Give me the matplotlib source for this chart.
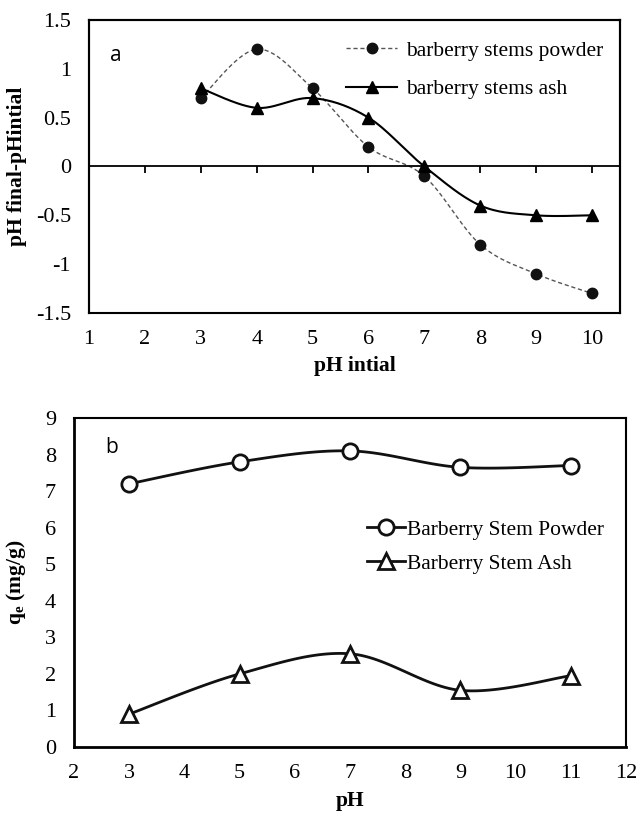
import numpy as np
import matplotlib
matplotlib.use("Agg")
import matplotlib.pyplot as plt
from matplotlib.lines import Line2D

plt.rcParams["font.family"] = ["Liberation Serif", "DejaVu Serif"]
plt.rcParams["mathtext.fontset"] = "custom"
plt.rcParams["mathtext.rm"] = "Liberation Serif"
plt.rcParams["mathtext.bf"] = "Liberation Serif:bold"

# panel a: change of pH vs initial pH
ph_init = [3, 4, 5, 6, 7, 8, 9, 10]
dph_powder = [0.7, 1.2, 0.8, 0.2, -0.1, -0.8, -1.1, -1.3]
dph_ash = [0.8, 0.6, 0.7, 0.5, 0.0, -0.4, -0.5, -0.5]

# panel b: uptake vs pH
ph_b = [3, 5, 7, 9, 11]
qe_powder = [7.2, 7.8, 8.1, 7.65, 7.7]
qe_ash = [0.9, 2.0, 2.55, 1.55, 1.95]


def smooth(x, y, n=30):
    # excel-like smoothed line: bezier through points, tangents from neighbours
    x = np.asarray(x, float)
    y = np.asarray(y, float)
    px = np.concatenate([[x[0]], x, [x[-1]]])
    py = np.concatenate([[y[0]], y, [y[-1]]])
    xs, ys = [], []
    t = np.linspace(0, 1, n)
    for i in range(1, len(px) - 2):
        p0 = np.array([px[i], py[i]])
        p3 = np.array([px[i + 1], py[i + 1]])
        p1 = p0 + (np.array([px[i + 1], py[i + 1]]) - np.array([px[i - 1], py[i - 1]])) / 6
        p2 = p3 - (np.array([px[i + 2], py[i + 2]]) - np.array([px[i], py[i]])) / 6
        b = ((1 - t) ** 3)[:, None] * p0 + (3 * (1 - t) ** 2 * t)[:, None] * p1 \
            + (3 * (1 - t) * t ** 2)[:, None] * p2 + (t ** 3)[:, None] * p3
        xs.extend(b[:, 0])
        ys.extend(b[:, 1])
    return np.array(xs), np.array(ys)


fig = plt.figure(figsize=(6.38, 8.18), dpi=100)
ax1 = fig.add_axes([0.1395, 0.6174, 0.8323, 0.3582])
ax2 = fig.add_axes([0.116, 0.0868, 0.8652, 0.4022])

# ---- panel a
sx, sy = smooth(ph_init, dph_powder)
ax1.plot(sx, sy, color="#555555", lw=1.0, ls=(0, (3, 2)))
ax1.plot(ph_init, dph_powder, ls="none", marker="o", ms=7.5, color="#111111")
sx, sy = smooth(ph_init, dph_ash)
ax1.plot(sx, sy, color="black", lw=1.5)
ax1.plot(ph_init, dph_ash, ls="none", marker="^", ms=8, color="black")

ax1.set_xlim(1, 10.5)
ax1.set_ylim(-1.5, 1.5)
ax1.set_xticks(range(2, 11))
ax1.set_yticks([-1.5, -1, -0.5, 0, 0.5, 1, 1.5])
ax1.set_yticklabels(["-1.5", "-1", "-0.5", "0", "0.5", "1", "1.5"])
ax1.tick_params(axis="y", length=0, labelsize=16, pad=13)
# x axis line sits on zero, ticks pointing down, no labels there
ax1.spines["bottom"].set_position(("data", 0))
ax1.tick_params(axis="x", direction="out", length=5, width=1.3, labelbottom=False)
for s in ax1.spines.values():
    s.set_linewidth(1.5)
ax1.spines["bottom"].set_linewidth(1.3)

# labels at the bottom of the frame
lab = ax1.twiny()
lab.set_xlim(ax1.get_xlim())
lab.set_xticks(range(1, 11))
lab.xaxis.set_ticks_position("bottom")
lab.xaxis.set_label_position("bottom")
lab.tick_params(axis="x", length=0, labelsize=16, pad=12)
for s in lab.spines.values():
    s.set_linewidth(1.5)

lab.set_xlabel("pH intial", fontsize=15.5, fontweight="bold", labelpad=5)
ax1.set_ylabel("pH final-pHintial", fontsize=15.5, fontweight="bold", labelpad=6)
ax1.text(0.04, 0.88, "a", transform=ax1.transAxes, fontsize=15,
         family="Open Sans", va="center", ha="left")

h_pow = Line2D([], [], color="#555555", lw=1.0, ls=(0, (3, 2)), marker="o", ms=7.5,
               mfc="#111111", mec="#111111")
h_ash = Line2D([], [], color="black", lw=1.5, marker="^", ms=8)
ax1.legend([h_pow, h_ash], ["barberry stems powder", "barberry stems ash"],
           loc="upper right", bbox_to_anchor=(1.005, 0.995), frameon=False,
           fontsize=15.5, handlelength=2.4, handletextpad=0.4, labelspacing=0.85)

# ---- panel b
sx, sy = smooth(ph_b, qe_powder)
ax2.plot(sx, sy, color="#111111", lw=2)
ax2.plot(ph_b, qe_powder, ls="none", marker="o", ms=11, mfc="white", mec="#111111", mew=2)
sx, sy = smooth(ph_b, qe_ash)
ax2.plot(sx, sy, color="#111111", lw=2)
ax2.plot(ph_b, qe_ash, ls="none", marker="^", ms=11, mfc="white", mec="#111111", mew=2)

ax2.set_xlim(2, 12)
ax2.set_ylim(0, 9)
ax2.set_xticks(range(2, 13))
ax2.set_yticks(range(0, 10))
ax2.tick_params(axis="both", length=0, labelsize=16, pad=13)
ax2.tick_params(axis="x", pad=12)
for s in ax2.spines.values():
    s.set_linewidth(1.5)
ax2.spines["left"].set_linewidth(2)
ax2.spines["bottom"].set_linewidth(2)

ax2.set_xlabel("pH", fontsize=15.5, fontweight="bold", labelpad=6)
ax2.set_ylabel(r"$\mathbf{q}_{\mathbf{e}}$ (mg/g)", fontsize=15.5, fontweight="bold", labelpad=12)
ax2.text(0.056, 0.91, "b", transform=ax2.transAxes, fontsize=15,
         family="Open Sans", va="center", ha="left")

h_p2 = Line2D([], [], color="#111111", lw=2, marker="o", ms=11, mfc="white", mec="#111111", mew=2)
h_a2 = Line2D([], [], color="#111111", lw=2, marker="^", ms=11, mfc="white", mec="#111111", mew=2)
ax2.legend([h_p2, h_a2], ["Barberry Stem Powder", "Barberry Stem Ash"],
           loc="upper right", bbox_to_anchor=(0.995, 0.75), frameon=False,
           fontsize=15.5, handlelength=1.75, handletextpad=0.1, labelspacing=0.65)

fig.savefig("out.png", dpi=100)
